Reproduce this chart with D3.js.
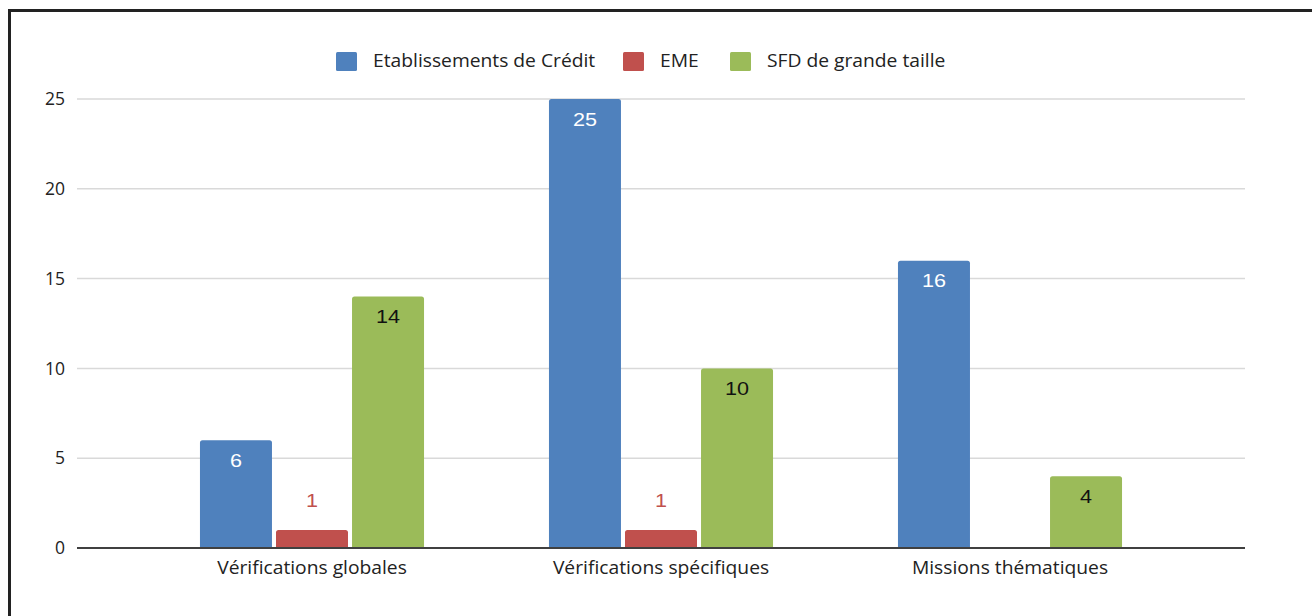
<!DOCTYPE html>
<html>
<head>
<meta charset="utf-8">
<script src="https://cdn.jsdelivr.net/npm/d3@7"></script>
<style>
  body { margin: 0; background: #fff; }
  text { font-family: "Open Sans", "DejaVu Sans", sans-serif; }
</style>
</head>
<body>
<div id="chart"></div>
<script>
// données
const categories = ["Vérifications globales", "Vérifications spécifiques", "Missions thématiques"];
const seriesNames = ["Etablissements de Crédit", "EME", "SFD de grande taille"];
const credit = [6, 25, 16];
const eme = [1, 1, 0];
const sfd = [14, 10, 4];
const yTicks = [0, 5, 10, 15, 20, 25];

const colors = ["#4f81bd", "#c0504d", "#9bbb59"];
const labelColors = ["#ffffff", "#c0504d", "#111111"];

const W = 1312, H = 616;
const plot = {left: 77, right: 1245, top: 99, bottom: 548};
const sx = 1.07; // le texte de l'original est un peu étiré en largeur

const svg = d3.select("#chart").append("svg")
  .attr("width", W)
  .attr("height", H);

// texte étiré horizontalement autour de son point d'ancrage
function stretched(sel, x, y, k) {
  return sel.attr("x", 0).attr("y", 0)
    .attr("transform", (d, i) => `translate(${x(d, i)},${y(d, i)}) scale(${k},1)`);
}

// cadre (bord gauche et haut)
svg.append("path")
  .attr("d", `M9.5,${H} L9.5,10.5 L${W},10.5`)
  .attr("fill", "none")
  .attr("stroke", "#222")
  .attr("stroke-width", 3);

const y = d3.scaleLinear().domain([0, 25]).range([plot.bottom, plot.top]);

const x0 = d3.scaleBand()
  .domain(categories)
  .range([137.5, 1184.5])
  .paddingInner(0.358)
  .paddingOuter(0.179);

const x1 = d3.scaleBand()
  .domain(seriesNames)
  .range([0, x0.bandwidth()])
  .paddingInner(0.053);

// grille
svg.append("g")
  .selectAll("line")
  .data(yTicks.filter(d => d > 0))
  .join("line")
  .attr("x1", plot.left)
  .attr("x2", plot.right)
  .attr("y1", d => y(d))
  .attr("y2", d => y(d))
  .attr("stroke", "#d9d9d9")
  .attr("stroke-width", 1.5);

// axe y
const yAxis = svg.append("g")
  .attr("transform", `translate(${plot.left},0)`)
  .call(d3.axisLeft(y).tickValues(yTicks).tickSize(0).tickPadding(12));
yAxis.select(".domain").remove();
yAxis.selectAll("text")
  .attr("font-size", 17.5)
  .attr("fill", "#222")
  .style("font-family", "Open Sans");

// barres
const table = categories.map((c, i) => ({
  cat: c,
  values: [credit[i], eme[i], sfd[i]]
}));

const groups = svg.append("g")
  .selectAll("g")
  .data(table)
  .join("g")
  .attr("transform", d => `translate(${x0(d.cat)},0)`);

const bars = groups.selectAll("g")
  .data(d => d.values.map((v, j) => ({v, j, name: seriesNames[j]})).filter(d => d.v > 0))
  .join("g");

bars.append("path")
  .attr("fill", d => colors[d.j])
  .attr("d", d => {
    const bx = x1(d.name), bw = x1.bandwidth();
    const top = y(d.v), bot = y(0), r = 2.5;
    return `M${bx},${bot} L${bx},${top + r} Q${bx},${top} ${bx + r},${top} ` +
      `L${bx + bw - r},${top} Q${bx + bw},${top} ${bx + bw},${top + r} L${bx + bw},${bot} Z`;
  });

bars.append("text")
  .call(stretched,
    d => x1(d.name) + x1.bandwidth() / 2,
    d => d.j === 1 ? y(d.v) - 23 : y(d.v) + 26.5,
    1.2)
  .attr("text-anchor", "middle")
  .attr("font-size", 18)
  .attr("fill", d => labelColors[d.j])
  .style("font-family", "Liberation Sans, Arial, sans-serif")
  .text(d => d.v);

// axe des abscisses
svg.append("line")
  .attr("x1", plot.left)
  .attr("x2", plot.right)
  .attr("y1", y(0))
  .attr("y2", y(0))
  .attr("stroke", "#404040")
  .attr("stroke-width", 1.8);

svg.append("g")
  .selectAll("text")
  .data(categories)
  .join("text")
  .call(stretched, d => x0(d) + x0.bandwidth() / 2, () => 574, sx)
  .attr("text-anchor", "middle")
  .attr("font-size", 18)
  .attr("fill", "#222")
  .text(d => d);

// légende
const legendPos = [336, 623, 730];
const legend = svg.append("g")
  .selectAll("g")
  .data(seriesNames)
  .join("g")
  .attr("transform", (d, i) => `translate(${legendPos[i]},52)`);

legend.append("rect")
  .attr("width", 21)
  .attr("height", 19)
  .attr("rx", 1.5)
  .attr("fill", (d, i) => colors[i]);

legend.append("text")
  .call(stretched, () => 37, () => 15, sx)
  .attr("font-size", 18)
  .attr("fill", "#222")
  .text(d => d);
</script>
</body>
</html>
